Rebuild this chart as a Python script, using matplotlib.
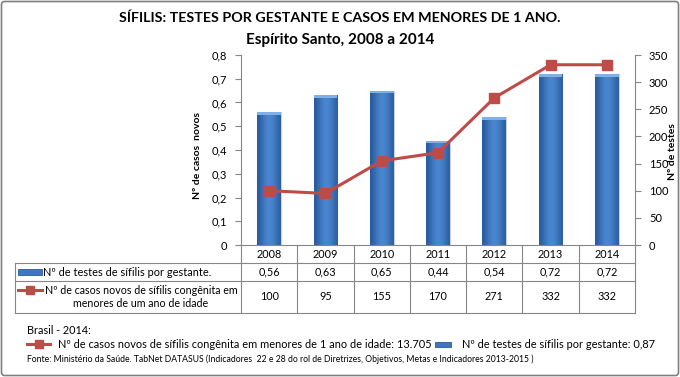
import matplotlib
matplotlib.use("Agg")
import matplotlib.pyplot as plt
import numpy as np
from matplotlib.patches import Rectangle, FancyBboxPatch
from matplotlib.colors import LinearSegmentedColormap

plt.rcParams['font.family'] = ['Lato', 'DejaVu Sans']

years = ['2008', '2009', '2010', '2011', '2012', '2013', '2014']
testes = [0.56, 0.63, 0.65, 0.44, 0.54, 0.72, 0.72]
casos = [100, 95, 155, 170, 271, 332, 332]

title1 = 'SÍFILIS: TESTES POR GESTANTE E CASOS EM MENORES DE 1 ANO.'
title2 = 'Espírito Santo, 2008 a 2014'
row1_label = 'Nº de testes de sífilis por gestante.'
row2_label = 'Nº de casos novos de sífilis congênita em\nmenores de um ano de idade'
brasil_title = 'Brasil - 2014:'
brasil_casos = 'Nº de casos novos de sífilis congênita em menores de 1 ano de idade: 13.705'
brasil_testes = 'Nº de testes de sífilis por gestante: 0,87'
fonte = ('Fonte: Ministério da Saúde. TabNet DATASUS (Indicadores  22 e 28 do rol de Diretrizes, '
         'Objetivos, Metas e Indicadores 2013-2015 )')

W, H = 680, 377
RED = '#BE4B48'
BLUE = '#3F76BF'
GRAY = '#868686'

fig = plt.figure(figsize=(W / 100, H / 100), dpi=100)

# pixel layout
ax_l, ax_r, ax_t, ax_b = 241, 635, 55, 245
ax1 = fig.add_axes([ax_l / W, 1 - ax_b / H, (ax_r - ax_l) / W, (ax_b - ax_t) / H])
ax2 = ax1.twinx()

x = np.arange(len(years))
bars = ax1.bar(x, testes, width=0.42, color=BLUE, edgecolor='#C8D3E3', linewidth=0.8, zorder=2)

# gradient on bars
grad = np.array([[0.0, 0.35, 0.7, 1.0, 1.0, 0.8, 0.5, 0.1]])
cmap = LinearSegmentedColormap.from_list('b', ['#2B5C9C', '#4A87D0'])
for b in bars:
    x0, w, h = b.get_x(), b.get_width(), b.get_height()
    im = ax1.imshow(grad, extent=[x0, x0 + w, 0, h], aspect='auto', cmap=cmap,
                    vmin=0, vmax=1, zorder=3, interpolation='bicubic')
    im.set_clip_path(b)
    ax1.add_patch(Rectangle((x0, h - 0.012), w, 0.012, color='#7FB0E8', zorder=4, lw=0))

ax1.set_xlim(-0.5, len(years) - 0.5)
ax1.set_ylim(0, 0.8)
ax1.set_yticks(np.arange(0, 0.81, 0.1))
ax1.set_yticklabels(['0'] + [f'{v:.1f}'.replace('.', ',') for v in np.arange(0.1, 0.81, 0.1)])
ax1.set_xticks([])

ax2.plot(x, casos, color=RED, lw=2.2, marker='s', markersize=6.5, zorder=5)
ax2.set_ylim(0, 350)
ax2.set_yticks(np.arange(0, 351, 50))

for a in (ax1, ax2):
    for s in a.spines.values():
        s.set_visible(False)
    a.tick_params(axis='y', labelsize=8, colors=GRAY, length=4, width=0.8, labelcolor='black', pad=6)
ax1.spines['left'].set_visible(True)
ax1.spines['left'].set_color(GRAY)
ax1.spines['bottom'].set_visible(True)
ax1.spines['bottom'].set_color(GRAY)
ax2.spines['right'].set_visible(True)
ax2.spines['right'].set_color(GRAY)

ax1.set_ylabel('Nº de casos  novos', fontsize=7.5, fontweight='bold')
ax1.yaxis.set_label_coords(-0.099, 0.47)
ax2.set_ylabel('Nº de testes', fontsize=7.5, fontweight='bold', rotation=90)
ax2.yaxis.set_label_coords(1.084, 0.49)

# overlay in pixel coords
ov = fig.add_axes([0, 0, 1, 1], zorder=-1)
ov.set_xlim(0, W)
ov.set_ylim(H, 0)
ov.axis('off')

ov.add_patch(FancyBboxPatch((1.5, 1.5), W - 3, H - 3, boxstyle='round,pad=0,rounding_size=3',
                            fill=False, ec='#7F7F7F', lw=1.2))

ov.text(W / 2, 18, title1, ha='center', va='center', fontsize=10.3, fontweight='bold')
ov.text(W / 2, 40, title2, ha='center', va='center', fontsize=11, fontweight='bold')

# data table
col_w = (ax_r - ax_l) / len(years)
t_top, r1, r2, t_bot = 245, 262.5, 281, 313
lc = GRAY
ov.plot([15, ax_r], [r1, r1], color=lc, lw=0.8)
ov.plot([15, ax_r], [r2, r2], color=lc, lw=0.8)
ov.plot([15, ax_r], [t_bot, t_bot], color=lc, lw=0.8)
ov.plot([15, 15], [r1, t_bot], color=lc, lw=0.8)
for i in range(len(years) + 1):
    xx = ax_l + i * col_w
    ov.plot([xx, xx], [t_top, t_bot], color=lc, lw=0.8)
for i, yr in enumerate(years):
    cx = ax_l + (i + 0.5) * col_w
    ov.text(cx, 254.5, yr, ha='center', va='center', fontsize=7.8)
    ov.text(cx, 272, f'{testes[i]:.2f}'.replace('.', ','), ha='center', va='center', fontsize=7.8)
    ov.text(cx, 297, str(casos[i]), ha='center', va='center', fontsize=7.8)

ov.add_patch(Rectangle((18, 268.5), 24, 6, fc=BLUE, ec='#2B5C9C', lw=0.6))
ov.text(43, 272, row1_label, ha='left', va='center', fontsize=7.9)
ov.plot([18, 42], [290, 290], color=RED, lw=2.2)
ov.plot([30], [290], color=RED, marker='s', markersize=6)
ov.text(141, 297, row2_label, ha='center', va='center', fontsize=7.7, linespacing=1.25)

# Brasil legend
ov.text(27, 331, brasil_title, ha='left', va='center', fontsize=7.8)
ov.plot([27, 50], [344, 344], color=RED, lw=2.2)
ov.plot([38.5], [344], color=RED, marker='s', markersize=6)
ov.text(58, 344, brasil_casos, ha='left', va='center', fontsize=7.9)
ov.add_patch(Rectangle((435, 342), 16, 5, fc=BLUE, ec='#2B5C9C', lw=0.6))
ov.text(462, 344, brasil_testes, ha='left', va='center', fontsize=7.9)
ov.text(27, 359, fonte, ha='left', va='center', fontsize=6.2)

fig.savefig('out.png', dpi=100)
